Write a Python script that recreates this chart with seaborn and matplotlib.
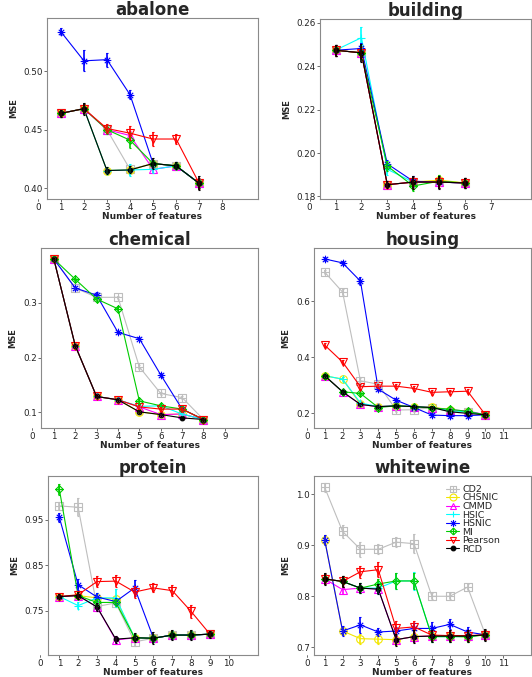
import numpy as np
import pandas as pd
import matplotlib
matplotlib.use("Agg")
import matplotlib.pyplot as plt
import seaborn as sns
from matplotlib.path import Path
from matplotlib.lines import Line2D
from matplotlib.transforms import blended_transform_factory, ScaledTranslation
from matplotlib.colors import to_hex

# ---------------- data ----------------
methods = ["CD2", "CHSNIC", "CMMD", "HSIC", "HSNIC", "MI", "Pearson", "RCD"]
colors = ["#BEBEBE", "#F2E600", "#FF00FF", "#00FFFF", "#0000FF", "#00CC00", "#FF0000", "#000000"]

abalone_mse = {
    "CD2":     [0.464, 0.468, 0.450, 0.416, 0.421, 0.419, 0.404],
    "CHSNIC":  [0.464, 0.468, 0.415, 0.4155, 0.421, 0.419, 0.404],
    "CMMD":    [0.464, 0.468, 0.450, 0.445, 0.416, 0.419, 0.404],
    "HSIC":    [0.464, 0.468, 0.415, 0.4155, 0.416, 0.419, 0.404],
    "HSNIC":   [0.534, 0.509, 0.510, 0.480, 0.421, 0.419, 0.404],
    "MI":      [0.464, 0.468, 0.450, 0.441, 0.421, 0.419, 0.404],
    "Pearson": [0.464, 0.468, 0.451, 0.447, 0.442, 0.442, 0.404],
    "RCD":     [0.464, 0.468, 0.415, 0.4155, 0.421, 0.419, 0.404],
}
abalone_err = {
    "CD2":     [0.003, 0.004, 0.003, 0.004, 0.003, 0.003, 0.004],
    "CHSNIC":  [0.003, 0.004, 0.003, 0.003, 0.003, 0.003, 0.004],
    "CMMD":    [0.003, 0.004, 0.004, 0.004, 0.003, 0.003, 0.004],
    "HSIC":    [0.003, 0.004, 0.003, 0.005, 0.003, 0.003, 0.004],
    "HSNIC":   [0.003, 0.009, 0.006, 0.004, 0.003, 0.003, 0.004],
    "MI":      [0.003, 0.004, 0.004, 0.007, 0.003, 0.003, 0.004],
    "Pearson": [0.003, 0.004, 0.004, 0.006, 0.006, 0.004, 0.005],
    "RCD":     [0.003, 0.005, 0.003, 0.003, 0.005, 0.003, 0.006],
}

building_mse = {
    "CD2":     [0.2474, 0.2462, 0.1854, 0.1866, 0.1866, 0.1862],
    "CHSNIC":  [0.2474, 0.2462, 0.1854, 0.1866, 0.1875, 0.1862],
    "CMMD":    [0.2474, 0.2462, 0.1854, 0.1866, 0.1866, 0.1862],
    "HSIC":    [0.2474, 0.2532, 0.1925, 0.1866, 0.1866, 0.1862],
    "HSNIC":   [0.2474, 0.2482, 0.1950, 0.1870, 0.1866, 0.1862],
    "MI":      [0.2474, 0.2462, 0.1940, 0.1848, 0.1870, 0.1862],
    "Pearson": [0.2474, 0.2462, 0.1854, 0.1866, 0.1866, 0.1862],
    "RCD":     [0.2474, 0.2462, 0.1854, 0.1866, 0.1866, 0.1862],
}
building_err = {
    "CD2":     [0.0025, 0.0025, 0.0015, 0.0025, 0.0025, 0.0025],
    "CHSNIC":  [0.0025, 0.0025, 0.0015, 0.0025, 0.0025, 0.0025],
    "CMMD":    [0.0025, 0.0025, 0.0015, 0.0025, 0.0025, 0.0025],
    "HSIC":    [0.0025, 0.0050, 0.0025, 0.0025, 0.0025, 0.0025],
    "HSNIC":   [0.0025, 0.0025, 0.0020, 0.0025, 0.0025, 0.0025],
    "MI":      [0.0025, 0.0030, 0.0025, 0.0025, 0.0030, 0.0025],
    "Pearson": [0.0025, 0.0025, 0.0015, 0.0025, 0.0025, 0.0025],
    "RCD":     [0.0025, 0.0040, 0.0015, 0.0030, 0.0030, 0.0025],
}

chemical_mse = {
    "CD2":     [0.380, 0.327, 0.310, 0.310, 0.183, 0.1345, 0.127, 0.087],
    "CHSNIC":  [0.380, 0.222, 0.129, 0.123, 0.101, 0.096, 0.097, 0.087],
    "CMMD":    [0.380, 0.222, 0.129, 0.123, 0.110, 0.096, 0.097, 0.087],
    "HSIC":    [0.380, 0.222, 0.129, 0.123, 0.111, 0.112, 0.097, 0.087],
    "HSNIC":   [0.380, 0.327, 0.314, 0.246, 0.2345, 0.1685, 0.106, 0.087],
    "MI":      [0.380, 0.343, 0.307, 0.289, 0.121, 0.112, 0.106, 0.087],
    "Pearson": [0.380, 0.222, 0.129, 0.123, 0.110, 0.106, 0.106, 0.087],
    "RCD":     [0.380, 0.222, 0.129, 0.123, 0.101, 0.096, 0.090, 0.087],
}
chemical_err = {
    "CD2":     [0.002, 0.003, 0.003, 0.003, 0.003, 0.003, 0.003, 0.002],
    "CHSNIC":  [0.002, 0.003, 0.002, 0.002, 0.002, 0.002, 0.002, 0.002],
    "CMMD":    [0.002, 0.003, 0.002, 0.002, 0.002, 0.002, 0.002, 0.002],
    "HSIC":    [0.002, 0.003, 0.002, 0.002, 0.003, 0.003, 0.002, 0.002],
    "HSNIC":   [0.002, 0.003, 0.005, 0.003, 0.003, 0.004, 0.003, 0.002],
    "MI":      [0.002, 0.003, 0.004, 0.004, 0.003, 0.003, 0.003, 0.002],
    "Pearson": [0.002, 0.003, 0.002, 0.002, 0.003, 0.003, 0.003, 0.002],
    "RCD":     [0.002, 0.003, 0.002, 0.002, 0.002, 0.002, 0.002, 0.002],
}

housing_mse = {
    "CD2":     [0.703, 0.632, 0.316, 0.304, 0.212, 0.213, 0.221, 0.206, 0.204, 0.195],
    "CHSNIC":  [0.334, 0.322, 0.233, 0.224, 0.227, 0.224, 0.223, 0.213, 0.205, 0.195],
    "CMMD":    [0.334, 0.277, 0.232, 0.224, 0.227, 0.224, 0.221, 0.212, 0.209, 0.195],
    "HSIC":    [0.334, 0.322, 0.237, 0.224, 0.227, 0.224, 0.221, 0.210, 0.205, 0.195],
    "HSNIC":   [0.750, 0.736, 0.671, 0.286, 0.247, 0.221, 0.194, 0.192, 0.192, 0.195],
    "MI":      [0.334, 0.277, 0.271, 0.221, 0.227, 0.224, 0.219, 0.215, 0.207, 0.195],
    "Pearson": [0.443, 0.383, 0.295, 0.297, 0.297, 0.289, 0.275, 0.277, 0.279, 0.195],
    "RCD":     [0.334, 0.277, 0.232, 0.224, 0.227, 0.224, 0.221, 0.206, 0.200, 0.195],
}
housing_err = {
    "CD2":     [0.008, 0.010, 0.010, 0.010, 0.008, 0.008, 0.006, 0.006, 0.006, 0.006],
    "CHSNIC":  [0.006, 0.006, 0.006, 0.006, 0.006, 0.006, 0.006, 0.006, 0.006, 0.006],
    "CMMD":    [0.006, 0.006, 0.006, 0.006, 0.006, 0.006, 0.006, 0.006, 0.008, 0.006],
    "HSIC":    [0.006, 0.006, 0.006, 0.006, 0.006, 0.006, 0.006, 0.006, 0.006, 0.006],
    "HSNIC":   [0.008, 0.008, 0.015, 0.008, 0.008, 0.006, 0.006, 0.010, 0.010, 0.006],
    "MI":      [0.006, 0.006, 0.006, 0.006, 0.006, 0.006, 0.006, 0.008, 0.008, 0.006],
    "Pearson": [0.008, 0.008, 0.008, 0.008, 0.008, 0.008, 0.008, 0.008, 0.008, 0.006],
    "RCD":     [0.006, 0.006, 0.006, 0.006, 0.006, 0.006, 0.006, 0.008, 0.008, 0.008],
}

protein_mse = {
    "CD2":     [0.981, 0.978, 0.759, 0.767, 0.681, 0.689, 0.696, 0.696, 0.698],
    "CHSNIC":  [0.781, 0.783, 0.778, 0.776, 0.690, 0.689, 0.696, 0.696, 0.698],
    "CMMD":    [0.781, 0.783, 0.758, 0.685, 0.690, 0.689, 0.696, 0.696, 0.698],
    "HSIC":    [0.781, 0.761, 0.778, 0.778, 0.690, 0.689, 0.696, 0.696, 0.698],
    "HSNIC":   [0.956, 0.807, 0.780, 0.770, 0.800, 0.689, 0.696, 0.696, 0.698],
    "MI":      [1.018, 0.783, 0.768, 0.768, 0.690, 0.689, 0.696, 0.696, 0.698],
    "Pearson": [0.781, 0.785, 0.814, 0.815, 0.791, 0.800, 0.794, 0.748, 0.698],
    "RCD":     [0.781, 0.783, 0.758, 0.687, 0.690, 0.689, 0.696, 0.696, 0.698],
}
protein_err = {
    "CD2":     [0.008, 0.020, 0.008, 0.008, 0.010, 0.008, 0.008, 0.008, 0.006],
    "CHSNIC":  [0.006, 0.006, 0.008, 0.008, 0.008, 0.008, 0.008, 0.008, 0.006],
    "CMMD":    [0.006, 0.006, 0.008, 0.008, 0.008, 0.008, 0.008, 0.008, 0.006],
    "HSIC":    [0.006, 0.008, 0.010, 0.020, 0.008, 0.008, 0.008, 0.008, 0.006],
    "HSNIC":   [0.010, 0.012, 0.008, 0.008, 0.018, 0.008, 0.008, 0.008, 0.006],
    "MI":      [0.012, 0.008, 0.008, 0.008, 0.008, 0.008, 0.008, 0.008, 0.006],
    "Pearson": [0.006, 0.008, 0.012, 0.014, 0.014, 0.010, 0.012, 0.014, 0.006],
    "RCD":     [0.006, 0.008, 0.008, 0.008, 0.010, 0.013, 0.012, 0.012, 0.008],
}

whitewine_mse = {
    "CD2":     [1.013, 0.927, 0.892, 0.892, 0.906, 0.903, 0.800, 0.800, 0.818, 0.7245],
    "CHSNIC":  [0.910, 0.732, 0.717, 0.716, 0.715, 0.721, 0.7226, 0.7226, 0.720, 0.7245],
    "CMMD":    [0.834, 0.813, 0.816, 0.814, 0.715, 0.721, 0.7226, 0.7226, 0.722, 0.7245],
    "HSIC":    [0.834, 0.829, 0.816, 0.816, 0.830, 0.830, 0.721, 0.721, 0.721, 0.7245],
    "HSNIC":   [0.910, 0.732, 0.744, 0.730, 0.732, 0.737, 0.737, 0.745, 0.730, 0.7245],
    "MI":      [0.834, 0.829, 0.816, 0.824, 0.830, 0.830, 0.721, 0.721, 0.721, 0.7245],
    "Pearson": [0.834, 0.829, 0.848, 0.852, 0.737, 0.740, 0.724, 0.723, 0.723, 0.7245],
    "RCD":     [0.834, 0.829, 0.816, 0.814, 0.715, 0.721, 0.722, 0.722, 0.722, 0.7245],
}
whitewine_err = {
    "CD2":     [0.008, 0.012, 0.015, 0.010, 0.010, 0.018, 0.006, 0.006, 0.006, 0.006],
    "CHSNIC":  [0.010, 0.008, 0.010, 0.010, 0.010, 0.010, 0.010, 0.010, 0.010, 0.010],
    "CMMD":    [0.010, 0.008, 0.008, 0.008, 0.008, 0.010, 0.010, 0.010, 0.010, 0.010],
    "HSIC":    [0.010, 0.010, 0.010, 0.012, 0.015, 0.018, 0.010, 0.010, 0.010, 0.010],
    "HSNIC":   [0.010, 0.010, 0.015, 0.008, 0.008, 0.010, 0.012, 0.010, 0.010, 0.010],
    "MI":      [0.010, 0.010, 0.010, 0.010, 0.015, 0.015, 0.010, 0.010, 0.010, 0.010],
    "Pearson": [0.010, 0.010, 0.012, 0.015, 0.015, 0.012, 0.010, 0.010, 0.010, 0.010],
    "RCD":     [0.012, 0.010, 0.010, 0.010, 0.012, 0.012, 0.012, 0.012, 0.012, 0.012],
}

panels = ["abalone", "building", "chemical", "housing", "protein", "whitewine"]
panel_mse = [abalone_mse, building_mse, chemical_mse, housing_mse, protein_mse, whitewine_mse]
panel_err = [abalone_err, building_err, chemical_err, housing_err, protein_err, whitewine_err]
yticks_list = [[0.40, 0.45, 0.50], [0.18, 0.20, 0.22, 0.24, 0.26], [0.1, 0.2, 0.3],
               [0.2, 0.4, 0.6], [0.75, 0.85, 0.95], [0.7, 0.8, 0.9, 1.0]]
yfmt_list = ["%.2f", "%.2f", "%.1f", "%.1f", "%.2f", "%.1f"]

# ---------------- style ----------------
sns.set_style("white")
plt.rcParams["font.family"] = ["DejaVu Sans"]

M, L = Path.MOVETO, Path.LINETO
square_plus = Path([(-1, -1), (1, -1), (1, 1), (-1, 1), (-1, -1), (0, -1), (0, 1), (-1, 0), (1, 0)],
                   [M, L, L, L, L, M, L, M, L])
diamond_plus = Path([(0, -1), (1, 0), (0, 1), (-1, 0), (0, -1), (0, -1), (0, 1), (-1, 0), (1, 0)],
                    [M, L, L, L, L, M, L, M, L])
plus_path = Path([(0, -1), (0, 1), (-1, 0), (1, 0)], [M, L, M, L])
d = 0.7071
aster_path = Path([(0, -1), (0, 1), (-1, 0), (1, 0), (-d, -d), (d, d), (-d, d), (d, -d)],
                  [M, L, M, L, M, L, M, L])
marker_map = {"CD2": square_plus, "CHSNIC": "o", "CMMD": "^", "HSIC": plus_path,
              "HSNIC": aster_path, "MI": diamond_plus, "Pearson": "v", "RCD": "o"}
palette = dict(zip(methods, colors))
hex2method = {to_hex(c): m for m, c in palette.items()}

W, H = 532, 677
boxes = {"abalone": (47, 18, 258, 199), "building": (320, 19, 531, 199),
         "chemical": (41, 248, 258, 428), "housing": (314, 248, 531, 428),
         "protein": (48, 476, 258, 655), "whitewine": (314, 476, 531, 655)}
ylims = {"abalone": (0.3906, 0.5457), "building": (0.1788, 0.2618),
         "chemical": (0.0715, 0.400), "housing": (0.148, 0.789),
         "protein": (0.652, 1.047), "whitewine": (0.685, 1.0355)}

fig = plt.figure(figsize=(W / 100, H / 100), dpi=100)
spine_c = "#8A8A8A"
tick_c = "#333333"
MS = 5.5
MS_RCD = 3.4
TICK_FS = 6.3

for name, mse, err, yt, yf in zip(panels, panel_mse, panel_err, yticks_list, yfmt_list):
    l, t, r, b = boxes[name]
    ax = fig.add_axes([l / W, 1 - b / H, (r - l) / W, (b - t) / H])
    n = len(mse["CD2"])
    rows = []
    for m in methods:
        for k in range(n):
            rows.append((k + 1, m, mse[m][k], err[m][k]))
    df = pd.DataFrame(rows, columns=["k", "method", "mse", "sd"])
    sns.lineplot(data=df, x="k", y="mse", hue="method", style="method",
                 hue_order=methods, style_order=methods, palette=palette,
                 markers=marker_map, dashes=False, errorbar=None, sort=True,
                 linewidth=0.8, markersize=MS, legend=False, ax=ax)
    for ln in ax.lines:
        c = to_hex(ln.get_color())
        m = hex2method.get(c)
        ln.set_markeredgecolor(c)
        ln.set_markeredgewidth(0.8)
        if m == "RCD":
            ln.set_markerfacecolor(c)
            ln.set_markersize(MS_RCD)
        else:
            ln.set_markerfacecolor("none")
    for m in methods:
        sub = df[df.method == m]
        ax.errorbar(sub["k"], sub["mse"], yerr=sub["sd"], fmt="none",
                    ecolor=palette[m], elinewidth=1.2, capsize=0.8, capthick=0.8)

    ax.set_xlim(0.4, n + 2.55)
    ax.set_ylim(*ylims[name])
    ax.set_xticks(range(1, n + 2))
    ax.set_yticks(yt)
    ax.set_yticklabels([yf % v for v in yt])
    ax.tick_params(axis="both", direction="out", length=2, width=0.5, color=tick_c,
                   labelsize=TICK_FS, labelcolor="#222222", pad=1)
    ax.tick_params(axis="x", bottom=True)
    ax.tick_params(axis="y", left=True)
    # "0" label sitting left of the panel as in the original
    tr = blended_transform_factory(ax.transData, ax.transAxes)
    ax.plot([0, 0], [0, -0.011], transform=tr, clip_on=False, color=tick_c, lw=0.5)
    ax.text(0, 0, "0", transform=tr + ScaledTranslation(0, -3.0 / 72, fig.dpi_scale_trans),
            ha="center", va="top", fontsize=TICK_FS, color="#222222", clip_on=False)
    for s in ax.spines.values():
        s.set_visible(True)
        s.set_color(spine_c)
        s.set_linewidth(0.8)
    ax.set_title(name, fontsize=12, fontweight="bold", pad=2)
    ax.set_xlabel("Number of features", fontsize=6.5, fontweight="bold", labelpad=0)
    ax.set_ylabel("MSE", fontsize=6, fontweight="bold", labelpad=4)

    if name == "whitewine":
        handles = []
        for m in methods:
            handles.append(Line2D([], [], color=palette[m], marker=marker_map[m], lw=0.8,
                                  markersize=MS_RCD if m == "RCD" else 5,
                                  markerfacecolor=palette[m] if m == "RCD" else "none",
                                  markeredgecolor=palette[m], markeredgewidth=0.8))
        ax.legend(handles, methods, loc="upper left", bbox_to_anchor=(0.61, 0.95),
                  frameon=False, fontsize=6.8, handlelength=1.3, handletextpad=0.4,
                  labelspacing=-0.05, borderpad=0, borderaxespad=0)

fig.savefig("out.png", dpi=100)
